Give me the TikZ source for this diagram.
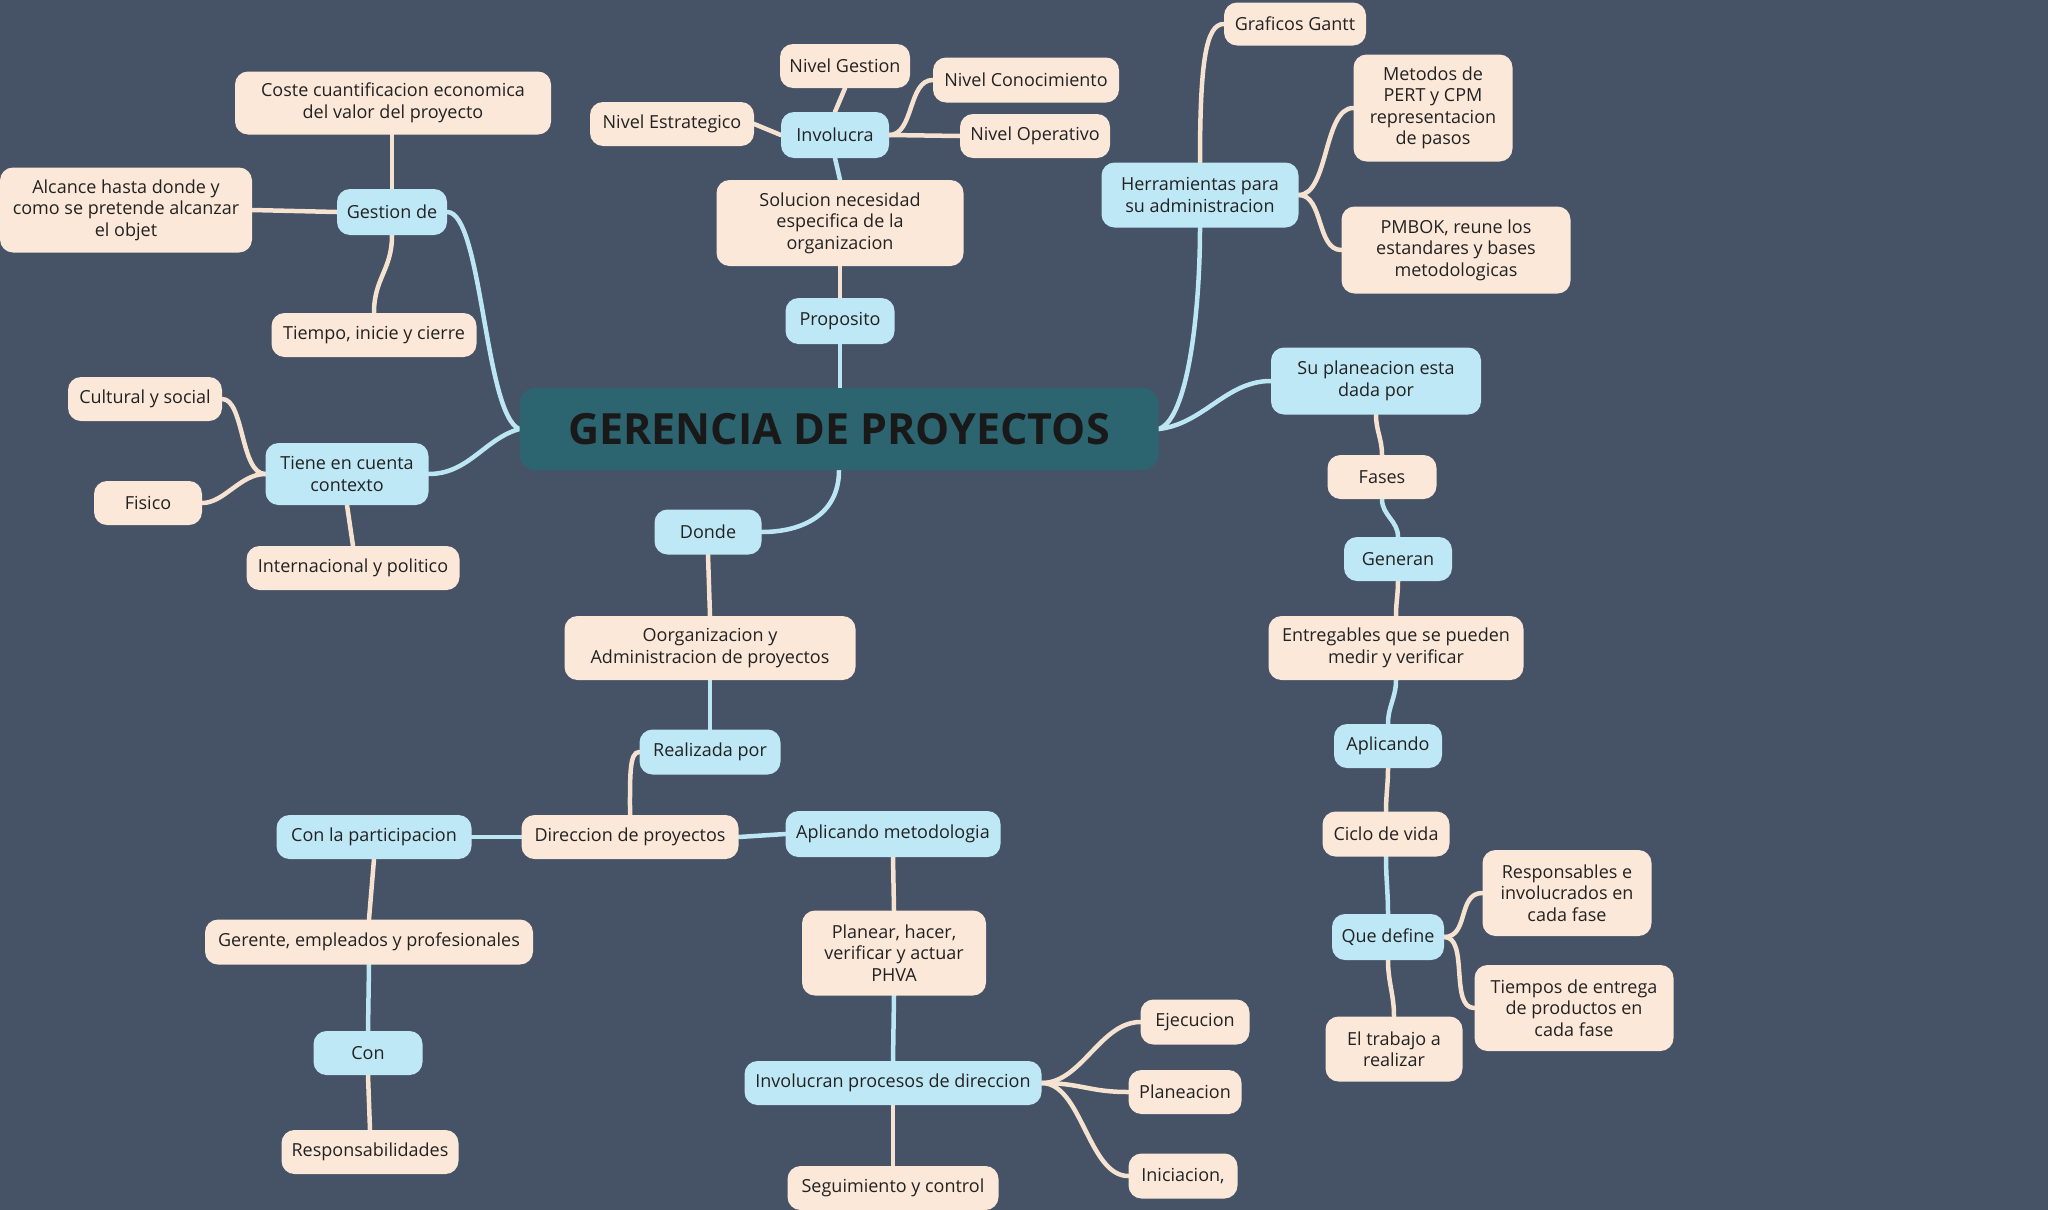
\documentclass[tikz,border=0pt]{standalone}
\usepackage{fontspec}
\setmainfont{Open Sans}
\usetikzlibrary{backgrounds}
\definecolor{bgc}{HTML}{465266}
\definecolor{peachc}{HTML}{FBE8D9}
\definecolor{bluec}{HTML}{BEE8F6}
\definecolor{centc}{HTML}{2C6470}
\definecolor{txtc}{HTML}{222222}
\definecolor{pedge}{HTML}{F5E2D0}
\definecolor{bedgec}{HTML}{BDE6F5}
\tikzset{
  box/.style={rounded corners=13pt, inner sep=1pt, align=center, text=txtc,
    font=\fontsize{18}{21.5}\selectfont},
  pbox/.style={box, fill=peachc},
  bbox/.style={box, fill=bluec},
  pe/.style={draw=pedge, line width=4.5pt, line cap=round},
  be/.style={draw=bedgec, line width=4.5pt, line cap=round},
}
\newcommand{\bx}[6]{\node[#1, minimum width=#4pt, minimum height=#5pt] (#2) at (#3) {#6};}
\begin{document}
\begin{tikzpicture}[x=1pt,y=-1pt]
\begin{pgfonlayer}{background}
\fill[bgc] (0,0) rectangle (2048,1210);
\end{pgfonlayer}
\useasboundingbox (0,0) rectangle (2048,1210);

% central
\node[rounded corners=16pt, fill=centc, minimum width=639pt, minimum height=82pt,
  font=\fontsize{43}{48}\bfseries\selectfont, text=black!90] (c) at (839,429) {GERENCIA DE PROYECTOS};

% left upper
\bx{pbox}{coste}{393,103}{316}{63}{Coste cuantificacion economica\\del valor del proyecto}
\bx{pbox}{alc}{126,210}{252}{85}{Alcance hasta donde y\\como se pretende alcanzar\\el objet}
\bx{bbox}{gest}{392,212}{110}{46}{Gestion de}
\bx{pbox}{tiempo}{374,335}{205}{44}{Tiempo, inicie y cierre}
\bx{pbox}{cult}{145,399}{154}{44}{Cultural y social}
\bx{bbox}{tiene}{347,474}{163}{62}{Tiene en cuenta\\contexto}
\bx{pbox}{fis}{148,503}{108}{44}{Fisico}
\bx{pbox}{intl}{353,568}{213}{44}{Internacional y politico}

% top middle
\bx{pbox}{ng}{845,66}{130}{44}{Nivel Gestion}
\bx{pbox}{estr}{672,124}{164}{44}{Nivel Estrategico}
\bx{bbox}{inv}{835,135}{108}{46}{Involucra}
\bx{pbox}{conoc}{1026,80}{186}{45}{Nivel Conocimiento}
\bx{pbox}{oper}{1035,136}{150}{44}{Nivel Operativo}
\bx{pbox}{sol}{840,223}{247}{86}{Solucion necesidad\\especifica de la\\organizacion}
\bx{bbox}{prop}{840,321}{109}{46}{Proposito}

% top right
\bx{pbox}{gantt}{1295,24}{142}{43}{Graficos Gantt}
\bx{pbox}{met}{1433,108}{159}{107}{Metodos de\\PERT y CPM\\representacion\\de pasos}
\bx{bbox}{herr}{1200,195}{197}{65}{Herramientas para\\su administracion}
\bx{pbox}{pmb}{1456,250}{229}{87}{PMBOK, reune los\\estandares y bases\\metodologicas}
\bx{bbox}{sp}{1376,381}{210}{67}{Su planeacion esta\\dada por}

% right column
\bx{pbox}{fases}{1382,477}{109}{44}{Fases}
\bx{bbox}{gen}{1398,559}{108}{44}{Generan}
\bx{pbox}{entr}{1396,648}{255}{64}{Entregables que se pueden\\medir y verificar}
\bx{bbox}{apl}{1388,746}{108}{44}{Aplicando}
\bx{pbox}{ciclo}{1386,834}{127}{45}{Ciclo de vida}
\bx{bbox}{qd}{1388,937}{112}{46}{Que define}
\bx{pbox}{resp}{1567,893}{169}{86}{Responsables e\\involucrados en\\cada fase}
\bx{pbox}{tent}{1574,1008}{199}{86}{Tiempos de entrega\\de productos en\\cada fase}
\bx{pbox}{trab}{1394,1049}{137}{65}{El trabajo a\\realizar}

% bottom middle
\bx{bbox}{donde}{708,532}{107}{45}{Donde}
\bx{pbox}{oorg}{710,648}{291}{64}{Oorganizacion y\\Administracion de proyectos}
\bx{bbox}{real}{710,752}{141}{45}{Realizada por}
\bx{pbox}{dir}{630,837}{217}{44}{Direccion de proyectos}
\bx{bbox}{conp}{374,837}{195}{44}{Con la participacion}
\bx{bbox}{apm}{893,834}{215}{46}{Aplicando metodologia}
\bx{pbox}{ger}{369,942}{328}{45}{Gerente, empleados y profesionales}
\bx{bbox}{con}{368,1053}{109}{44}{Con}
\bx{pbox}{respb}{370,1152}{177}{44}{Responsabilidades}
\bx{pbox}{plan}{894,953}{184}{85}{Planear, hacer,\\verificar y actuar\\PHVA}
\bx{bbox}{invp}{893,1083}{297}{44}{Involucran procesos de direccion}
\bx{pbox}{seg}{893,1188}{211}{44}{Seguimiento y control}
\bx{pbox}{ejec}{1195,1022}{109}{45}{Ejecucion}
\bx{pbox}{planc}{1185,1092}{113}{44}{Planeacion}
\bx{pbox}{inic}{1183,1176}{109}{45}{Iniciacion,}

\begin{pgfonlayer}{background}
% from central
\draw[be] (c.west) .. controls +(-35,-15) and +(35,0) .. (gest.east);
\draw[be] (c.west) .. controls +(-35,10) and +(40,0) .. (tiene.east);
\draw[be] (c.north -| prop.south) -- (prop.south);
\draw[be] (c.south) .. controls +(0,45) and +(40,0) .. (donde.east);
\draw[be] (c.east) .. controls +(30,-10) and +(0,80) .. (herr.south);
\draw[be] (c.east) .. controls +(45,-5) and +(-45,0) .. (sp.west);
% gestion
\draw[pe] (gest.north) -- (coste.south -| gest.north);
\draw[pe] (gest.west) -- (alc.east);
\draw[pe] (gest.south) .. controls +(0,35) and +(0,-35) .. (tiempo.north);
% tiene
\draw[pe] (tiene.west) .. controls +(-25,0) and +(22,0) .. (cult.east);
\draw[pe] (tiene.west) .. controls +(-25,0) and +(22,0) .. (fis.east);
\draw[pe] (tiene.south) -- (intl.north);
% proposito
\draw[pe] (prop.north) -- (sol.south);
\draw[be] (sol.north) -- (inv.south);
\draw[pe] (inv.north) -- (ng.south);
\draw[pe] (inv.west) -- (estr.east);
\draw[pe] (inv.east) .. controls +(25,0) and +(-25,0) .. (conoc.west);
\draw[pe] (inv.east) -- (oper.west);
% herramientas
\draw[pe] (herr.north) .. controls +(0,-100) and +(-18,0) .. (gantt.west);
\draw[pe] (herr.east) .. controls +(30,0) and +(-30,0) .. (met.west);
\draw[pe] (herr.east) .. controls +(25,0) and +(-25,0) .. (pmb.west);
% planeacion chain
\draw[pe] (sp.south) to[out=-90,in=90] (fases.north);
\draw[be] (fases.south) to[out=-90,in=90] (gen.north);
\draw[pe] (gen.south) to[out=-90,in=90] (entr.north);
\draw[be] (entr.south) to[out=-90,in=90] (apl.north);
\draw[pe] (apl.south) to[out=-90,in=90] (ciclo.north);
\draw[be] (ciclo.south) to[out=-90,in=90] (qd.north);
\draw[pe] (qd.east) .. controls +(25,0) and +(-25,0) .. (resp.west);
\draw[pe] (qd.east) .. controls +(25,0) and +(-25,0) .. (tent.west);
\draw[pe] (qd.south) to[out=-90,in=90] (trab.north);
% donde chain
\draw[pe] (donde.south) -- (oorg.north);
\draw[be] (oorg.south) -- (real.north);
\draw[pe] (real.west) .. controls +(-10,0) and +(0,-40) .. (dir.north);
\draw[be] (dir.west) -- (conp.east);
\draw[be] (dir.east) -- (apm.west);
\draw[pe] (conp.south) -- (ger.north);
\draw[be] (ger.south) -- (con.north);
\draw[pe] (con.south) -- (respb.north);
\draw[pe] (apm.south) -- (plan.north);
\draw[be] (plan.south) -- (invp.north);
\draw[pe] (invp.south) -- (seg.north);
\draw[pe] (invp.east) .. controls +(40,0) and +(-40,0) .. (ejec.west);
\draw[pe] (invp.east) .. controls +(40,0) and +(-40,0) .. (planc.west);
\draw[pe] (invp.east) .. controls +(40,0) and +(-40,0) .. (inic.west);
\end{pgfonlayer}
\end{tikzpicture}
\end{document}
